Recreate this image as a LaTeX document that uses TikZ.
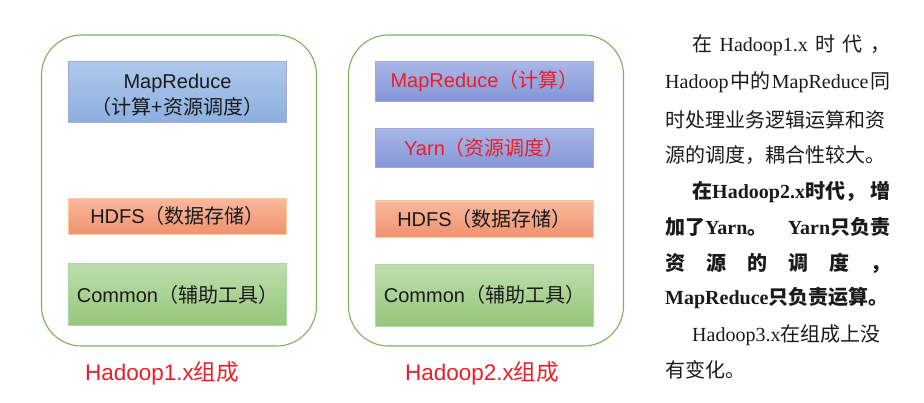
\documentclass[tikz,border=0pt]{standalone}
\usepackage{fontspec}
\setmainfont{Liberation Serif}
\setsansfont{Liberation Sans}
\newfontfamily\cjk{Noto Sans CJK SC}
\usetikzlibrary{positioning}
\newcommand{\zh}[1]{{\cjk #1}}
\definecolor{framegreen}{HTML}{7DB15A}
\definecolor{hred}{HTML}{EE1C25}
\definecolor{txt}{HTML}{1A1A1A}

\begin{document}
\begin{tikzpicture}[x=1pt,y=-1pt,node distance=27pt,
frame/.style={draw=framegreen,line width=1.1pt,rounded corners=40pt,minimum width=275pt,minimum height=311pt},
layer/.style={minimum width=218pt,inner sep=2pt,align=center,text=txt,
  font=\sffamily\fontsize{20}{26}\selectfont},
mrold/.style={layer,draw=blue!35!gray!50,top color={rgb,255:red,174;green,201;blue,236},bottom color={rgb,255:red,141;green,175;blue,223}},
mrnew/.style={layer,text=hred,draw=blue!40!gray!50,top color={rgb,255:red,170;green,184;blue,232},bottom color={rgb,255:red,131;green,149;blue,216}},
hdfs/.style={layer,minimum height=36pt,draw=orange!40,top color={rgb,255:red,249;green,185;blue,157},bottom color={rgb,255:red,240;green,146;blue,112}},
common/.style={layer,minimum height=62pt,draw=green!40!gray!50,top color={rgb,255:red,190;green,222;blue,172},bottom color={rgb,255:red,150;green,198;blue,123}},
caption/.style={text=hred,font=\sffamily\fontsize{22.5}{26}\selectfont},
para/.style={anchor=west,inner sep=0pt,text=txt,font=\fontsize{20}{24}\selectfont}]
\useasboundingbox (0,0) rectangle (924,402);

% Hadoop 1.x
\node[frame] (f1) at (179,190.5) {};
\node[mrold,minimum height=61pt] (mr1) at (177.5,91.5) {\rule{0pt}{21pt}MapReduce\\\zh{（计算+资源调度）}};
\node[hdfs] (hdfs1) at (177.5,216) {HDFS\zh{（数据存储）}};
\node[common,below=29pt of hdfs1] (com1) {Common\zh{（辅助工具）}};
\node[caption] (cap1) at (162,373) {Hadoop1.x\zh{组成}};

% Hadoop 2.x
\node[frame] (f2) at (486,190.5) {};
\node[mrnew,minimum height=40pt] (mr2) at (484.5,81) {MapReduce\zh{（计算）}};
\node[mrnew,minimum height=39pt,below=of mr2] (yarn2) {Yarn\zh{（资源调度）}};
\node[hdfs,below=33pt of yarn2] (hdfs2) {HDFS\zh{（数据存储）}};
\node[common,below=of hdfs2] (com2) {Common\zh{（辅助工具）}};
\node[caption] (cap2) at (482,373) {Hadoop2.x\zh{组成}};

% description
\node[para] (t1) at (692,45) {\hbox to 198pt{\zh{在}\hfil Hadoop1.x\hfil\zh{时}\hfil\zh{代}\hfil\zh{，}}};
\node[para] (t2) at (665,82) {\hbox to 225pt{Hadoop\hfil\zh{中的}\hfil MapReduce\hfil\zh{同}}};
\node[para] (t3) at (665,120) {\zh{时处理业务逻辑运算和资}};
\node[para] (t4) at (665,155) {\zh{源的调度，耦合性较大。}};
\node[para,font=\bfseries\fontsize{20}{24}\selectfont] (t5) at (692,192) {\hbox to 198pt{\zh{在}Hadoop2.x\zh{时代，}\hfil\zh{增}}};
\node[para,font=\bfseries\fontsize{20}{24}\selectfont] (t6) at (665,227) {\hbox to 225pt{\zh{加了}Yarn\zh{。}\hfil Yarn\zh{只负责}}};
\node[para,font=\bfseries\fontsize{20}{24}\selectfont] (t7) at (665,263) {\hbox to 225pt{\zh{资}\hfil\zh{源}\hfil\zh{的}\hfil\zh{调}\hfil\zh{度}\hfil\zh{，}}};
\node[para,font=\bfseries\fontsize{20}{24}\selectfont] (t8) at (665,298) {MapReduce\zh{只负责运算。}};
\node[para] (t9) at (692,335) {Hadoop3.x\zh{在组成上没}};
\node[para] (t10) at (665,370) {\zh{有变化。}};
\end{tikzpicture}
\end{document}
